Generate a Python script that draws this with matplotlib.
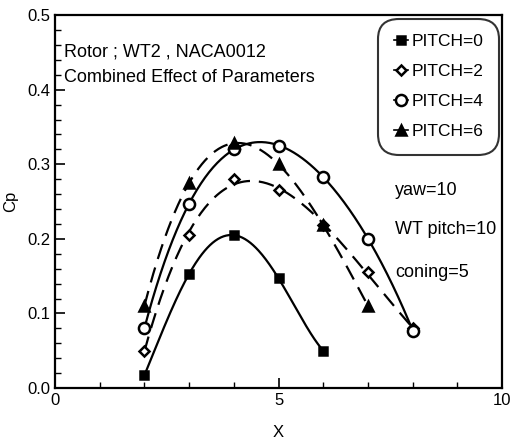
import numpy as np
import matplotlib.pyplot as plt

plt.rcParams['font.family'] = ['Liberation Sans', 'DejaVu Sans']

# data
x_p0 = [2, 3, 4, 5, 6]
cp_p0 = [0.017, 0.153, 0.205, 0.147, 0.050]
x_p2 = [2, 3, 4, 5, 6, 7, 8]
cp_p2 = [0.050, 0.205, 0.280, 0.265, 0.218, 0.155, 0.080]
x_p4 = [2, 3, 4, 5, 6, 7, 8]
cp_p4 = [0.080, 0.247, 0.320, 0.325, 0.283, 0.200, 0.077]
x_p6 = [2, 3, 4, 5, 6, 7]
cp_p6 = [0.110, 0.275, 0.328, 0.300, 0.218, 0.110]

series = [
    ("PITCH=0", x_p0, cp_p0, "s", "-", "k"),
    ("PITCH=2", x_p2, cp_p2, "D", "--", "w"),
    ("PITCH=4", x_p4, cp_p4, "o", "-", "w"),
    ("PITCH=6", x_p6, cp_p6, "^", "--", "k"),
]

fig = plt.figure(figsize=(5.13, 4.44), dpi=100)
ax = fig.add_axes([0.107, 0.126, 0.872, 0.840])

for label, xs, ys, mk, ls, fc in series:
    coef = np.polyfit(xs, ys, 4)
    xx = np.linspace(xs[0], xs[-1], 200)
    ax.plot(xx, np.polyval(coef, xx), color="k", ls=ls, lw=1.6,
            dashes=(7, 4) if ls == "--" else (None, None))
    ms = {"s": 6, "D": 5, "o": 8, "^": 7}[mk]
    ax.plot(xs, ys, ls="none", marker=mk, ms=ms, mfc=fc, mec="k", mew=1.8)
    ax.plot([], [], color="k", lw=1.2, marker=mk, ms=ms, mfc=fc, mec="k", mew=1.8, label=label)

ax.set_xlim(0, 10)
ax.set_ylim(0, 0.5)
ax.set_xticks([0, 5, 10])
ax.set_xticks(np.arange(0, 10.1, 1), minor=True)
ax.set_yticks(np.arange(0, 0.51, 0.1))
ax.set_yticks(np.arange(0, 0.51, 0.02), minor=True)
ax.set_yticklabels(["0.0", "0.1", "0.2", "0.3", "0.4", "0.5"])
ax.tick_params(which="both", direction="in", labelsize=12)
ax.tick_params(which="major", length=7, width=1.2)
ax.tick_params(which="minor", length=4, width=1)
for s in ax.spines.values():
    s.set_linewidth(1.6)

ax.set_xlabel("X", fontsize=12, labelpad=12)
ax.set_ylabel("Cp", fontsize=12, labelpad=6)

ax.text(0.2, 0.45, "Rotor ; WT2 , NACA0012", fontsize=13, va="center")
ax.text(0.2, 0.417, "Combined Effect of Parameters", fontsize=13, va="center")
ax.text(7.6, 0.265, "yaw=10", fontsize=13, va="center")
ax.text(7.6, 0.213, "WT pitch=10", fontsize=13, va="center")
ax.text(7.6, 0.155, "coning=5", fontsize=13, va="center")

leg = ax.legend(loc="upper right", fontsize=12.5, handlelength=0.8, handletextpad=0.2,
                labelspacing=0.85, borderpad=0.9, borderaxespad=0.2, frameon=True,
                fancybox=True)
fr = leg.get_frame()
fr.set_edgecolor("k")
fr.set_linewidth(1.5)
fr.set_boxstyle("round,pad=0,rounding_size=1.2")

fig.savefig("out.png", dpi=100)
